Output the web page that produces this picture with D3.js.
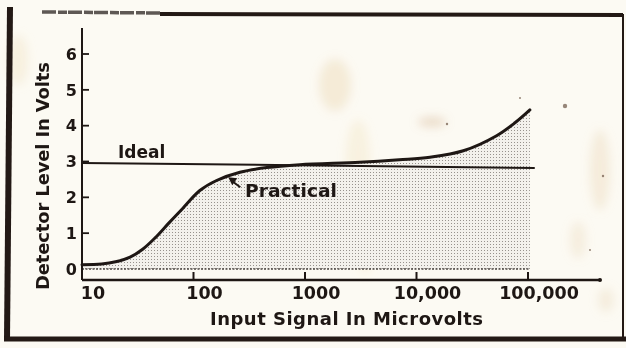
<!DOCTYPE html>
<html>
<head>
<meta charset="utf-8">
<script src="https://cdn.jsdelivr.net/npm/d3@7"></script>
<style>
  html, body { margin: 0; padding: 0; background: #fcfaf3; }
  svg { display: block; }
  text { font-family: "DejaVu Sans", sans-serif; font-weight: 700; fill: #1e1714; }
</style>
</head>
<body>
<svg id="chart" width="626" height="348"></svg>
<script>
// Input signal decades (microvolts) and their printed labels
const decades = [10, 100, 1000, 10000, 100000];
const decadeLabels = ["10", "100", "1000", "10,000", "100,000"];
// Detector level ticks (volts)
const voltTicks = [0, 1, 2, 3, 4, 5, 6];

// Practical detector response
const practicalInput = [10, 15, 20, 27, 35, 45, 60, 80, 114, 161, 261, 454, 900, 3100, 7000, 13200, 26300, 52300, 76400, 104000];
const practicalVolts = [0.12, 0.14, 0.2, 0.33, 0.55, 0.86, 1.28, 1.69, 2.19, 2.47, 2.70, 2.83, 2.91, 2.98, 3.05, 3.12, 3.3, 3.72, 4.08, 4.44];

// Ideal detector response (flat level)
const idealInput = [10, 115000];
const idealVolts = [2.96, 2.82];

const ink = "#1e1714";
const svg = d3.select("#chart");

const x = d3.scaleLog().domain([10, 100000]).range([82, 528]);
const y = d3.scaleLinear().domain([0, 6]).range([269, 54]);

const defs = svg.append("defs");
// stippled shading under the practical curve
const pat = defs.append("pattern").attr("id", "stipple")
  .attr("width", 3).attr("height", 3).attr("patternUnits", "userSpaceOnUse");
pat.append("rect").attr("width", 3).attr("height", 3).attr("fill", "#f3f1ec");
pat.append("rect").attr("x", 1).attr("y", 1).attr("width", 1).attr("height", 1).attr("fill", "#97928d");

const blur = defs.append("filter").attr("id", "soft").attr("x", "-50%").attr("y", "-50%").attr("width", "200%").attr("height", "200%");
blur.append("feGaussianBlur").attr("stdDeviation", 5);

// paper stains
const stains = [
  [335, 85, 16, 26, "#e6c999", 0.3],
  [358, 160, 12, 40, "#f0d9a8", 0.25],
  [365, 235, 10, 40, "#f2e2b8", 0.25],
  [432, 122, 14, 5, "#cfa37a", 0.35],
  [600, 170, 10, 40, "#e8d2ae", 0.35],
  [578, 240, 8, 18, "#e8d2ae", 0.3],
  [18, 60, 10, 25, "#efe2c0", 0.4],
  [606, 300, 8, 12, "#e8d6b8", 0.35]
];
svg.append("g").attr("filter", "url(#soft)")
  .selectAll("ellipse").data(stains).join("ellipse")
  .attr("cx", d => d[0]).attr("cy", d => d[1])
  .attr("rx", d => d[2]).attr("ry", d => d[3])
  .attr("fill", d => d[4]).attr("opacity", d => d[5]);

// frame
const frame = svg.append("g").attr("fill", "none").attr("stroke", "#231915");
frame.append("line").attr("x1", 42).attr("y1", 12).attr("x2", 160).attr("y2", 13)
  .attr("stroke", "#5e5854").attr("stroke-width", 3.5).attr("stroke-dasharray", "14,2,9,1");
frame.append("line").attr("x1", 160).attr("y1", 14).attr("x2", 623).attr("y2", 15)
  .attr("stroke-width", 4);
frame.append("line").attr("x1", 623).attr("y1", 14).attr("x2", 623).attr("y2", 340)
  .attr("stroke-width", 2);
frame.append("line").attr("x1", 10).attr("y1", 7).attr("x2", 7).attr("y2", 340)
  .attr("stroke-width", 6);
frame.append("line").attr("x1", 4).attr("y1", 339).attr("x2", 626).attr("y2", 339)
  .attr("stroke-width", 5);

// shaded area under the practical curve
const pts = practicalInput.map((v, i) => [v, practicalVolts[i]]);
const smooth = d3.curveCatmullRom.alpha(0.5);
const area = d3.area()
  .x(d => x(d[0])).y0(y(0)).y1(d => y(d[1]))
  .curve(smooth);
svg.append("path").datum(pts).attr("d", area).attr("fill", "url(#stipple)");

// zero level (dotted base of the shading)
svg.append("line")
  .attr("x1", x(10)).attr("x2", x(practicalInput[practicalInput.length - 1]))
  .attr("y1", y(0)).attr("y2", y(0))
  .attr("stroke", "#4a4440").attr("stroke-width", 1.5).attr("stroke-dasharray", "2,1.5");

// axes
const axisY = 280;
svg.append("line").attr("x1", x(10)).attr("x2", x(10)).attr("y1", 28).attr("y2", axisY)
  .attr("stroke", ink).attr("stroke-width", 2);
svg.append("line").attr("x1", x(10)).attr("x2", 600).attr("y1", axisY).attr("y2", axisY)
  .attr("stroke", ink).attr("stroke-width", 2.5);
svg.append("circle").attr("cx", 600).attr("cy", axisY).attr("r", 2).attr("fill", ink);

// y ticks and labels
svg.append("g").selectAll("line").data(voltTicks.filter(v => v > 0)).join("line")
  .attr("x1", x(10)).attr("x2", x(10) + 7)
  .attr("y1", d => y(d)).attr("y2", d => y(d))
  .attr("stroke", ink).attr("stroke-width", 1.8);
svg.append("g").selectAll("text").data(voltTicks).join("text")
  .attr("x", 77).attr("y", d => y(d)).attr("dy", "0.36em")
  .attr("text-anchor", "end").attr("font-size", 16)
  .text(d => d);

// x ticks and labels
svg.append("g").selectAll("line").data(decades.slice(1)).join("line")
  .attr("x1", d => x(d)).attr("x2", d => x(d))
  .attr("y1", axisY).attr("y2", axisY - 8)
  .attr("stroke", ink).attr("stroke-width", 2);
svg.append("g").selectAll("text").data(decades).join("text")
  .attr("x", d => x(d) + 11).attr("y", 299)
  .attr("text-anchor", "middle").attr("font-size", 17.5)
  .text((d, i) => decadeLabels[i]);

// axis titles
svg.append("text").attr("x", 210).attr("y", 325)
  .attr("font-size", 18)
  .attr("textLength", 273).attr("lengthAdjust", "spacing")
  .text("Input Signal In Microvolts");
svg.append("text")
  .attr("transform", "translate(49,290) rotate(-90)")
  .attr("font-size", 18)
  .attr("textLength", 228).attr("lengthAdjust", "spacing")
  .text("Detector Level In Volts");

// ideal response
const line = d3.line().x(d => x(d[0])).y(d => y(d[1]));
svg.append("path").datum(idealInput.map((v, i) => [v, idealVolts[i]]))
  .attr("d", line).attr("fill", "none").attr("stroke", ink).attr("stroke-width", 2);

// practical response
svg.append("path").datum(pts)
  .attr("d", line.curve(smooth))
  .attr("fill", "none").attr("stroke", ink).attr("stroke-width", 3)
  .attr("stroke-linecap", "round");

// labels
svg.append("text").attr("x", 118).attr("y", 158).attr("font-size", 17).text("Ideal");
svg.append("text").attr("x", 245).attr("y", 197).attr("font-size", 18)
  .attr("textLength", 92).attr("lengthAdjust", "spacingAndGlyphs").text("Practical");

// pointer from label to the curve
const tip = [x(205), y(2.56)];
svg.append("line").attr("x1", tip[0] + 4).attr("y1", tip[1] + 4)
  .attr("x2", tip[0] + 12).attr("y2", tip[1] + 10)
  .attr("stroke", ink).attr("stroke-width", 2);
svg.append("path")
  .attr("d", `M${tip[0]},${tip[1]} l9,1 l-5,7 z`)
  .attr("fill", ink);

// specks
const specks = [[565, 106, 2.2], [447, 124, 1.2], [520, 98, 1], [603, 176, 1.2], [590, 250, 1]];
svg.append("g").selectAll("circle").data(specks).join("circle")
  .attr("cx", d => d[0]).attr("cy", d => d[1]).attr("r", d => d[2])
  .attr("fill", "#6b5444").attr("opacity", 0.7);
</script>
</body>
</html>
